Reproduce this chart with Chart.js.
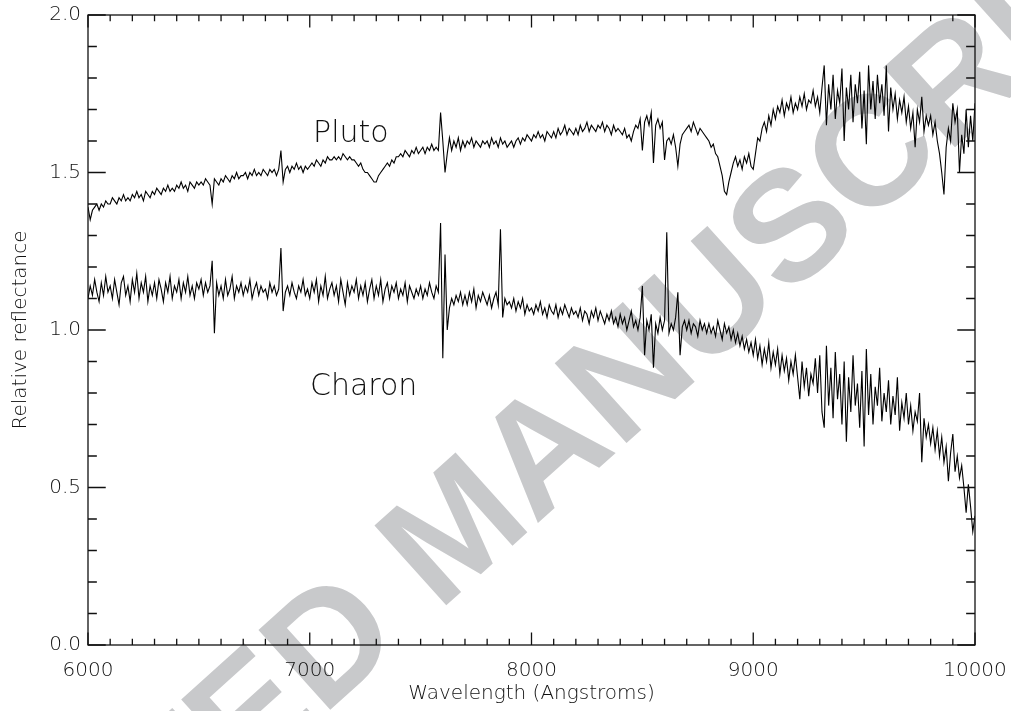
<!DOCTYPE html>
<html>
<head>
    <title>Pluto and Charon reflectance spectra</title>
    <script src="https://cdn.jsdelivr.net/npm/chart.js"></script>
    <style>
        body { margin: 0; background: #fff; }
    </style>
</head>
<body>

<canvas id="spectra_chart" width="1011" height="711"></canvas>

<script>
// sampling grid: 6000..10000 A every 10 A
const lambdaStart = 6000;
const lambdaStep = 10;

const plutoValues = [
    1.39,1.35,1.38,1.39,1.40,1.38,1.40,1.39,1.41,1.40,
    1.40,1.42,1.41,1.40,1.42,1.41,1.43,1.41,1.42,1.41,
    1.43,1.42,1.44,1.42,1.43,1.41,1.44,1.43,1.42,1.44,
    1.43,1.45,1.44,1.43,1.45,1.44,1.46,1.44,1.45,1.44,
    1.46,1.45,1.47,1.45,1.46,1.44,1.47,1.46,1.45,1.47,
    1.46,1.47,1.46,1.48,1.47,1.46,1.40,1.48,1.47,1.46,
    1.48,1.47,1.49,1.48,1.47,1.49,1.48,1.50,1.48,1.49,
    1.49,1.50,1.48,1.50,1.49,1.51,1.49,1.50,1.49,1.51,
    1.50,1.49,1.51,1.50,1.51,1.49,1.51,1.57,1.47,1.51,
    1.52,1.50,1.52,1.51,1.53,1.51,1.52,1.50,1.52,1.51,
    1.52,1.53,1.52,1.54,1.53,1.52,1.54,1.53,1.55,1.54,
    1.54,1.55,1.54,1.55,1.54,1.56,1.55,1.54,1.55,1.54,
    1.54,1.53,1.52,1.53,1.51,1.50,1.50,1.49,1.48,1.47,
    1.47,1.49,1.50,1.51,1.52,1.53,1.52,1.54,1.53,1.55,
    1.55,1.56,1.55,1.57,1.56,1.55,1.57,1.56,1.58,1.56,
    1.57,1.58,1.56,1.58,1.57,1.59,1.57,1.58,1.57,1.69,
    1.60,1.50,1.56,1.61,1.57,1.60,1.58,1.61,1.57,1.60,
    1.58,1.60,1.59,1.61,1.58,1.60,1.59,1.58,1.60,1.59,
    1.60,1.58,1.61,1.59,1.60,1.58,1.61,1.59,1.60,1.58,
    1.59,1.60,1.58,1.60,1.61,1.59,1.61,1.60,1.62,1.61,
    1.60,1.62,1.61,1.63,1.61,1.62,1.60,1.63,1.62,1.61,
    1.63,1.61,1.64,1.62,1.63,1.65,1.62,1.64,1.63,1.62,
    1.64,1.62,1.65,1.63,1.64,1.66,1.63,1.65,1.64,1.63,
    1.65,1.64,1.66,1.63,1.65,1.64,1.62,1.65,1.63,1.64,
    1.63,1.62,1.64,1.61,1.62,1.60,1.63,1.65,1.64,1.67,
    1.57,1.66,1.68,1.65,1.69,1.53,1.65,1.67,1.64,1.66,
    1.54,1.60,1.61,1.59,1.62,1.58,1.52,1.59,1.62,1.63,
    1.64,1.65,1.63,1.66,1.64,1.62,1.64,1.63,1.62,1.61,
    1.60,1.58,1.59,1.56,1.55,1.52,1.49,1.44,1.43,1.47,
    1.50,1.53,1.55,1.52,1.54,1.51,1.55,1.53,1.56,1.52,
    1.51,1.56,1.61,1.60,1.64,1.66,1.63,1.68,1.65,1.70,
    1.67,1.71,1.69,1.73,1.68,1.72,1.70,1.74,1.69,1.72,
    1.70,1.74,1.71,1.75,1.70,1.73,1.72,1.76,1.71,1.74,
    1.69,1.77,1.84,1.65,1.78,1.70,1.81,1.67,1.76,1.72,
    1.83,1.60,1.77,1.70,1.81,1.66,1.78,1.72,1.82,1.64,
    1.76,1.59,1.84,1.70,1.79,1.67,1.81,1.72,1.78,1.68,
    1.84,1.63,1.77,1.70,1.75,1.67,1.73,1.69,1.74,1.66,
    1.71,1.64,1.69,1.58,1.70,1.66,1.74,1.63,1.68,1.65,
    1.68,1.62,1.66,1.60,1.56,1.50,1.43,1.58,1.64,1.60,
    1.72,1.66,1.70,1.50,1.62,1.56,1.70,1.58,1.68,1.60,
    1.72
];

const charonValues = [
    1.10,1.14,1.11,1.16,1.12,1.09,1.15,1.11,1.17,1.12,
    1.14,1.10,1.16,1.12,1.08,1.15,1.17,1.11,1.14,1.09,
    1.16,1.12,1.18,1.10,1.15,1.12,1.17,1.09,1.14,1.11,
    1.15,1.10,1.16,1.13,1.09,1.15,1.12,1.17,1.10,1.14,
    1.12,1.16,1.10,1.15,1.12,1.17,1.11,1.14,1.10,1.15,
    1.13,1.16,1.11,1.15,1.12,1.14,1.22,0.99,1.15,1.11,
    1.14,1.10,1.16,1.11,1.13,1.17,1.10,1.14,1.12,1.15,
    1.11,1.14,1.12,1.16,1.10,1.13,1.15,1.11,1.14,1.12,
    1.13,1.10,1.15,1.12,1.14,1.11,1.13,1.26,1.06,1.12,
    1.14,1.11,1.15,1.12,1.10,1.14,1.12,1.16,1.11,1.13,
    1.10,1.15,1.12,1.16,1.09,1.14,1.11,1.17,1.10,1.13,
    1.15,1.11,1.14,1.09,1.16,1.12,1.08,1.15,1.11,1.14,
    1.12,1.16,1.10,1.14,1.11,1.15,1.09,1.13,1.16,1.10,
    1.14,1.11,1.16,1.09,1.13,1.15,1.10,1.14,1.12,1.15,
    1.10,1.13,1.11,1.15,1.09,1.14,1.12,1.10,1.13,1.11,
    1.14,1.10,1.13,1.11,1.15,1.12,1.10,1.14,1.12,1.34,
    0.91,1.24,1.00,1.07,1.10,1.08,1.11,1.09,1.12,1.08,
    1.11,1.08,1.12,1.09,1.13,1.07,1.11,1.09,1.12,1.10,
    1.08,1.11,1.07,1.10,1.12,1.08,1.32,1.04,1.10,1.08,
    1.09,1.07,1.10,1.06,1.09,1.07,1.10,1.05,1.08,1.06,
    1.07,1.05,1.08,1.06,1.09,1.05,1.07,1.04,1.08,1.06,
    1.05,1.08,1.04,1.07,1.05,1.08,1.06,1.04,1.07,1.05,
    1.06,1.04,1.07,1.03,1.06,1.05,1.02,1.06,1.04,1.07,
    1.03,1.06,1.04,1.02,1.05,1.03,1.06,1.02,1.04,1.01,
    1.05,1.02,1.04,1.00,1.03,1.06,1.01,1.03,1.00,1.04,
    1.14,0.92,1.03,1.00,1.05,0.88,1.02,0.99,1.04,1.00,
    1.03,1.31,0.99,1.02,1.00,1.04,1.12,0.92,1.01,1.03,
    1.00,1.03,0.99,1.02,1.01,0.98,1.03,1.00,1.02,0.99,
    1.02,0.99,1.01,0.98,1.03,1.00,0.97,1.02,0.99,1.01,
    0.97,1.00,0.96,0.99,0.95,0.98,0.94,0.97,0.93,0.96,
    0.92,0.97,0.91,0.95,0.89,0.94,0.90,0.96,0.88,0.93,
    0.89,0.94,0.86,0.92,0.87,0.91,0.84,0.90,0.86,0.92,
    0.85,0.78,0.90,0.82,0.88,0.79,0.86,0.83,0.91,0.80,
    0.92,0.74,0.69,0.95,0.76,0.88,0.72,0.93,0.78,0.86,
    0.70,0.90,0.645,0.85,0.74,0.92,0.76,0.83,0.69,0.87,
    0.63,0.94,0.73,0.86,0.70,0.82,0.76,0.88,0.71,0.80,
    0.74,0.84,0.70,0.79,0.73,0.85,0.68,0.77,0.72,0.80,
    0.70,0.76,0.68,0.74,0.71,0.80,0.58,0.72,0.66,0.70,
    0.64,0.69,0.62,0.68,0.60,0.66,0.58,0.63,0.52,0.61,
    0.67,0.55,0.60,0.53,0.57,0.50,0.42,0.51,0.44,0.36,
    0.41
];

// axis ticks
const xMajorTicks = [6000, 7000, 8000, 9000, 10000];
const yMajorTicks = [0.0, 0.5, 1.0, 1.5, 2.0];
const xMinorStep = 100;
const yMinorStep = 0.1;

// in-plot labels: [text, wavelength, reflectance (baseline)]
const seriesLabels = [
    ['Pluto', 7015, 1.597],
    ['Charon', 7001, 0.794]
];

const thinFont = "'DejaVu Sans', 'Liberation Sans', sans-serif";
const ink = '#111';

function toPoints(values) {
    const pts = [];
    for (let i = 0; i < values.length; i++) {
        pts.push({ x: lambdaStart + i * lambdaStep, y: values[i] });
    }
    return pts;
}

// grey diagonal watermark, sits under everything
const watermark = {
    id: 'watermark',
    beforeDraw(chart) {
        const ctx = chart.ctx;
        ctx.save();
        ctx.translate(490, 566);
        ctx.rotate(-42 * Math.PI / 180);
        ctx.fillStyle = 'rgb(200,201,203)';
        ctx.font = "bold 156px 'Liberation Sans', Arial, sans-serif";
        ctx.textAlign = 'center';
        ctx.textBaseline = 'alphabetic';
        ctx.fillText('ACCEPTED MANUSCRIPT', 0, 0);
        ctx.restore();
    }
};

// IDL style box with inward ticks on all four sides
const idlFrame = {
    id: 'idlFrame',
    afterDraw(chart) {
        const ctx = chart.ctx;
        const a = chart.chartArea;
        const xs = chart.scales.x, ys = chart.scales.y;
        const xMajLen = 0.02 * (a.bottom - a.top);
        const yMajLen = 0.02 * (a.right - a.left);
        ctx.save();
        ctx.strokeStyle = ink;
        ctx.lineWidth = 1.3;
        ctx.strokeRect(a.left, a.top, a.right - a.left, a.bottom - a.top);
        ctx.beginPath();
        for (let v = xs.min; v <= xs.max + 1e-6; v += xMinorStep) {
            const px = xs.getPixelForValue(v);
            const len = xMajorTicks.includes(Math.round(v)) ? xMajLen : xMajLen / 2;
            ctx.moveTo(px, a.bottom); ctx.lineTo(px, a.bottom - len);
            ctx.moveTo(px, a.top); ctx.lineTo(px, a.top + len);
        }
        for (let k = 0; k <= 20; k++) {
            const v = k * yMinorStep;
            const py = ys.getPixelForValue(v);
            const len = (k % 5 === 0) ? yMajLen : yMajLen / 2;
            ctx.moveTo(a.left, py); ctx.lineTo(a.left + len, py);
            ctx.moveTo(a.right, py); ctx.lineTo(a.right - len, py);
        }
        ctx.stroke();

        ctx.fillStyle = ink;
        ctx.font = "200 30px " + thinFont;
        ctx.textAlign = 'left';
        ctx.textBaseline = 'alphabetic';
        seriesLabels.forEach(function(l) {
            ctx.fillText(l[0], xs.getPixelForValue(l[1]), ys.getPixelForValue(l[2]));
        });
        ctx.restore();
    }
};

document.addEventListener("DOMContentLoaded", function() {
    const ctx = document.getElementById('spectra_chart').getContext('2d');

    new Chart(ctx, {
        type: 'line',
        data: {
            datasets: [{
                label: 'Pluto',
                data: toPoints(plutoValues),
                borderColor: '#000',
                borderWidth: 1.1,
                pointRadius: 0,
                tension: 0,
                fill: false
            }, {
                label: 'Charon',
                data: toPoints(charonValues),
                borderColor: '#000',
                borderWidth: 1.1,
                pointRadius: 0,
                tension: 0,
                fill: false
            }]
        },
        options: {
            responsive: false,
            animation: false,
            layout: {
                padding: { left: 0, top: 15, right: 36, bottom: 0 }
            },
            scales: {
                x: {
                    type: 'linear',
                    min: 6000,
                    max: 10000,
                    grid: { display: false, drawTicks: false },
                    border: { display: false },
                    afterBuildTicks: function(scale) {
                        scale.ticks = xMajorTicks.map(v => ({ value: v }));
                    },
                    afterFit: function(scale) {
                        scale.height = 66;
                        scale.paddingLeft = 0;
                        scale.paddingRight = 0;
                    },
                    ticks: {
                        color: ink,
                        padding: 14,
                        maxRotation: 0,
                        font: { family: thinFont, size: 20, weight: '200' },
                        callback: v => String(v)
                    },
                    title: {
                        display: true,
                        text: 'Wavelength (Angstroms)',
                        color: ink,
                        font: { family: thinFont, size: 20, weight: '200' },
                        padding: { top: 0, bottom: 5 }
                    }
                },
                y: {
                    type: 'linear',
                    min: 0,
                    max: 2,
                    grid: { display: false, drawTicks: false },
                    border: { display: false },
                    afterBuildTicks: function(scale) {
                        scale.ticks = yMajorTicks.map(v => ({ value: v }));
                    },
                    afterFit: function(scale) {
                        scale.width = 88;
                        scale.paddingTop = 0;
                        scale.paddingBottom = 0;
                    },
                    ticks: {
                        color: ink,
                        padding: 7,
                        font: { family: thinFont, size: 20, weight: '200' },
                        callback: v => v.toFixed(1)
                    },
                    title: {
                        display: true,
                        text: 'Relative reflectance',
                        color: ink,
                        font: { family: thinFont, size: 20, weight: '200' },
                        padding: { top: 9, bottom: 0 }
                    }
                }
            },
            plugins: {
                legend: { display: false },
                tooltip: { enabled: false }
            }
        },
        plugins: [watermark, idlFrame]
    });
});
</script>

</body>
</html>
